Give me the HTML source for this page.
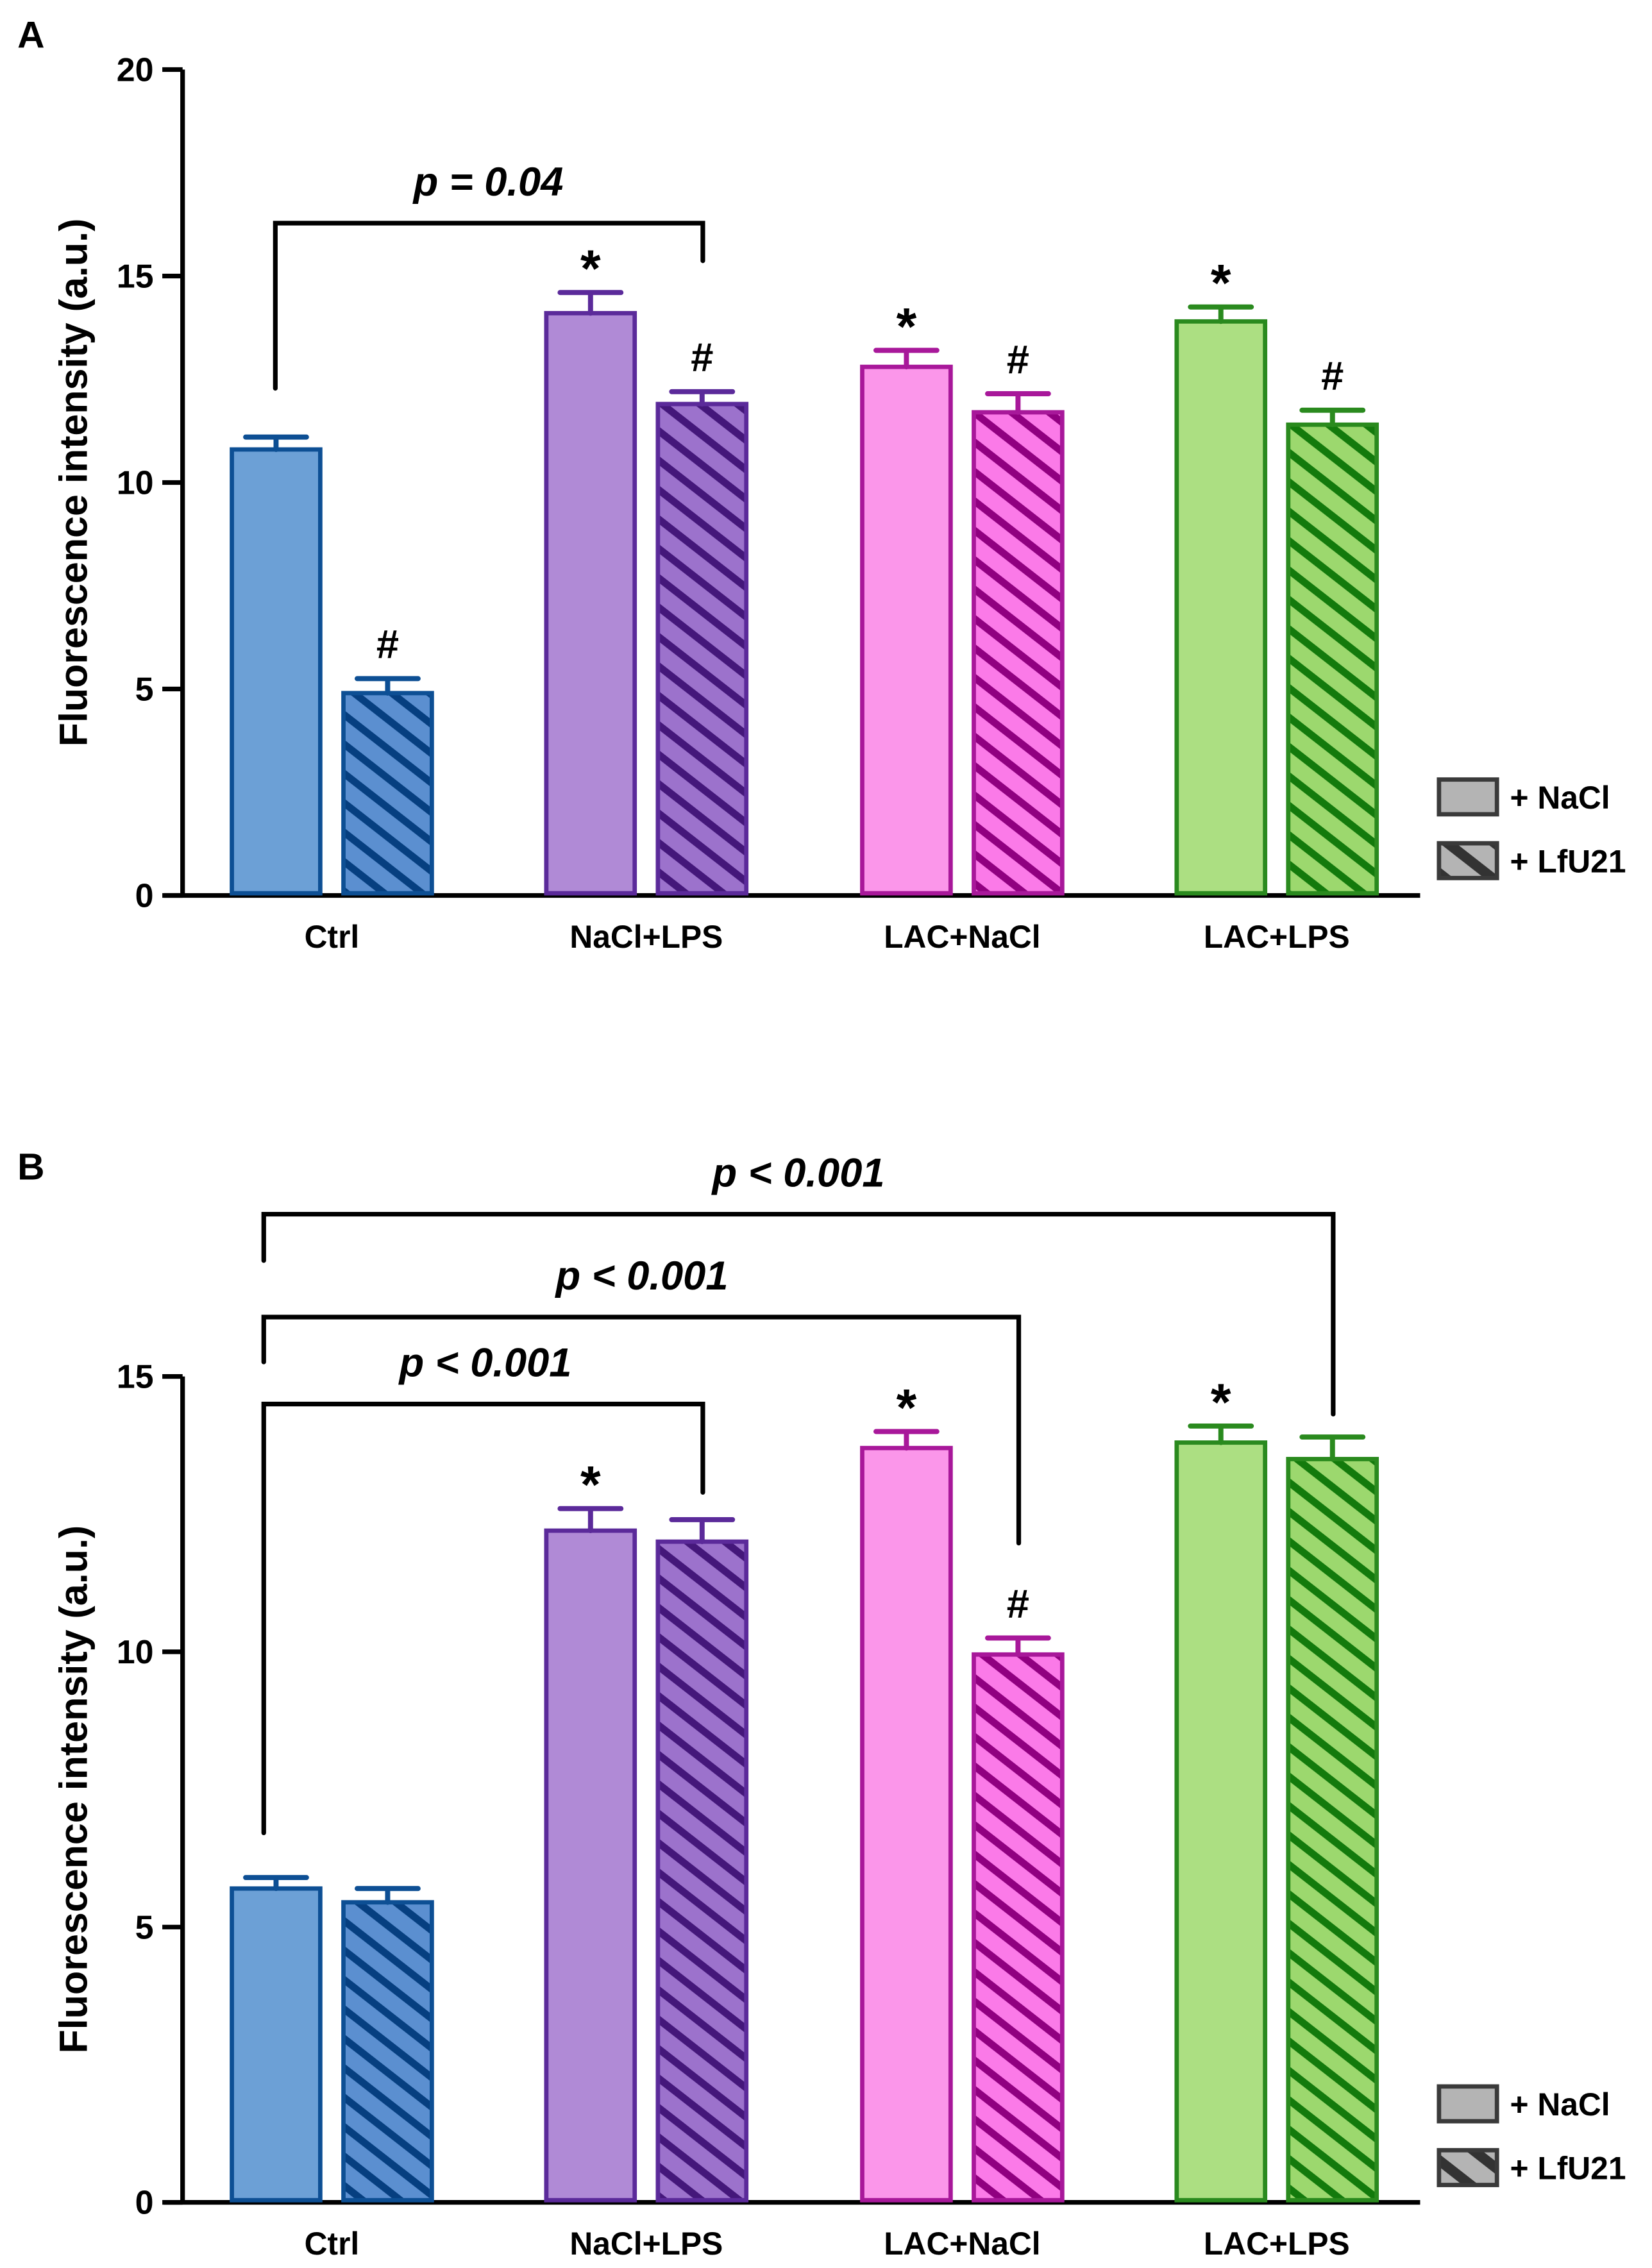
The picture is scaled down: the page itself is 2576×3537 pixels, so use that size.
<!DOCTYPE html>
<html><head><meta charset="utf-8"><style>
html,body{margin:0;padding:0;background:#fff;}
svg{display:block;}
text{font-family:"Liberation Sans",Arial,sans-serif;font-weight:bold;fill:#000;}
</style></head>
<body>
<svg id="fig" xmlns="http://www.w3.org/2000/svg" width="2576" height="3537" viewBox="0 0 1140 1565.3" preserveAspectRatio="none">
<defs>
<pattern id="hb" patternUnits="userSpaceOnUse" width="16" height="16" patternTransform="rotate(38)"><rect width="16" height="16" fill="#5b8fd0"/><rect width="16" height="5" fill="#063f80"/></pattern>
<pattern id="hp" patternUnits="userSpaceOnUse" width="16" height="16" patternTransform="rotate(38)"><rect width="16" height="16" fill="#9c72cc"/><rect width="16" height="5" fill="#44177a"/></pattern>
<pattern id="hk" patternUnits="userSpaceOnUse" width="16" height="16" patternTransform="rotate(38)"><rect width="16" height="16" fill="#fb7ae8"/><rect width="16" height="5" fill="#900080"/></pattern>
<pattern id="hg" patternUnits="userSpaceOnUse" width="16" height="16" patternTransform="rotate(38)"><rect width="16" height="16" fill="#9cd86e"/><rect width="16" height="5" fill="#137a0c"/></pattern>
<pattern id="hl" patternUnits="userSpaceOnUse" width="20" height="20" patternTransform="rotate(38)"><rect width="20" height="20" fill="#b4b4b4"/><rect width="20" height="7" fill="#333"/></pattern>
</defs>
<g id="panelA"></g>
<g id="panelB"></g>
</svg>
<script>
const categories = ["Ctrl","NaCl+LPS","LAC+NaCl","LAC+LPS"];
const valuesA_NaCl = [10.8, 14.1, 12.8, 13.9];
const errorsA_NaCl = [0.3, 0.5, 0.4, 0.35];
const valuesA_LfU = [4.9, 11.9, 11.7, 11.4];
const errorsA_LfU = [0.35, 0.3, 0.45, 0.35];
const marksA_NaCl = ["", "*", "*", "*"];
const marksA_LfU = ["#", "#", "#", "#"];
const ticksA = [0,5,10,15,20];
const valuesB_NaCl = [5.7, 12.2, 13.7, 13.8];
const errorsB_NaCl = [0.2, 0.4, 0.3, 0.3];
const valuesB_LfU = [5.45, 12.0, 9.95, 13.5];
const errorsB_LfU = [0.25, 0.4, 0.3, 0.4];
const marksB_NaCl = ["", "*", "*", "*"];
const marksB_LfU = ["", "", "#", ""];
const ticksB = [0,5,10,15];

const NS="http://www.w3.org/2000/svg";
const fills=["#6ca0d6","#b08ad6","#fb96ea","#acdf82"];
const strokes=["#0d4f94","#5b2a9a","#a8189a","#2a8a1e"];
const hatches=["url(#hb)","url(#hp)","url(#hk)","url(#hg)"];
function mk(parent,tag,attrs,txt){const e=document.createElementNS(NS,tag);for(const k in attrs)e.setAttribute(k,attrs[k]);if(txt!==undefined)e.textContent=txt;parent.appendChild(e);return e;}
const groupX=[160,377,595,812], barW=61, gap=16;

function drawPanel(g,letter,y0,yTop,maxV,ticks,vN,eN,vL,eL,mN,mL,legendY,labelY,titleY){
  const sc=v=>y0-(y0-yTop)*v/maxV;
  const L=mk(g,"text",{x:12,y:yTop-(letter==="A"?15:136),"font-size":26});L.textContent=letter;
  
  
  const ax=mk(g,"line",{x1:126,y1:yTop,x2:126,y2:y0,stroke:"#000","stroke-width":3.2});
  
  
  const xa=mk(g,"line",{x1:113,y1:y0,x2:980,y2:y0,stroke:"#000","stroke-width":3.2});
  
  
  ticks.forEach(t=>{
    const tl=mk(g,"line",{x1:112,y1:sc(t),x2:126,y2:sc(t),stroke:"#000","stroke-width":3.2});
    
    
    const tt=mk(g,"text",{x:106,y:sc(t)+8,"font-size":23,"text-anchor":"end"},String(t));
    
    
  });
  const yt=mk(g,"text",{x:0,y:0,"font-size":27,"text-anchor":"middle",transform:`translate(60,${titleY}) rotate(-90)`},"Fluorescence intensity (a.u.)");
  
  
  categories.forEach((c,i)=>{
    [[vN,eN,mN,fills[i],0],[vL,eL,mL,hatches[i],1]].forEach(([v,e,m,f,k])=>{
      const x=groupX[i]+k*(barW+gap), top=sc(v[i]);
      const r=mk(g,"rect",{x:x,y:top,width:barW,height:y0-top-1.5,fill:f,stroke:strokes[i],"stroke-width":3});
      
      
      const cx=x+barW/2, et=sc(v[i]+e[i]);
      const eb=mk(g,"path",{d:`M${cx},${top} V${et} M${cx-21},${et} H${cx+21}`,stroke:strokes[i],"stroke-width":3.5,"stroke-linecap":"round",fill:"none"});
      
      
      if(m[i]){
        const s=m[i]==="*";
        const mt=mk(g,"text",{x:cx,y:et-(s?4:14),"font-size":s?36:28,"text-anchor":"middle","font-weight":s?"bold":"normal"},m[i]);
        
        
      }
    });
    const cl=mk(g,"text",{x:groupX[i]+barW+gap/2,y:labelY,"font-size":22,"text-anchor":"middle"},c);
    
    
  });
  [["+ NaCl","#b4b4b4"],["+ LfU21","url(#hl)"]].forEach(([t,f],j)=>{
    const y=legendY+j*44;
    const lb=mk(g,"rect",{x:993,y:y,width:40,height:24,fill:f,stroke:"#3a3a3a","stroke-width":3});
    
    
    const lt=mk(g,"text",{x:1042,y:y+20,"font-size":22},t);
    
    
  });
}
function bracket(g,x1,x2,y,yl,yr,label,tx,ty){
  const p=mk(g,"path",{d:`M${x1},${yl} V${y} H${x2} V${yr}`,stroke:"#000","stroke-width":3.2,fill:"none","stroke-linecap":"round"});
  
  
  const t=mk(g,"text",{x:tx,y:ty,"font-size":28,"font-style":"italic","text-anchor":"middle"},label);
  
  
}
const gA=document.getElementById("panelA"), gB=document.getElementById("panelB");
drawPanel(gA,"A",618,48,20,ticksA,valuesA_NaCl,errorsA_NaCl,valuesA_LfU,errorsA_LfU,marksA_NaCl,marksA_LfU,538,654,333);
bracket(gA,190,485,154,268,180,"p = 0.04",337,135);
drawPanel(gB,"B",1520,950,15,ticksB,valuesB_NaCl,errorsB_NaCl,valuesB_LfU,errorsB_LfU,marksB_NaCl,marksB_LfU,1440,1556,1235);
bracket(gB,182,920,838,870,976,"p < 0.001",551,819);
bracket(gB,182,703,909,940,1065,"p < 0.001",443,890);
bracket(gB,182,485,969,1265,1030,"p < 0.001",335,950);
</script>
</body></html>
